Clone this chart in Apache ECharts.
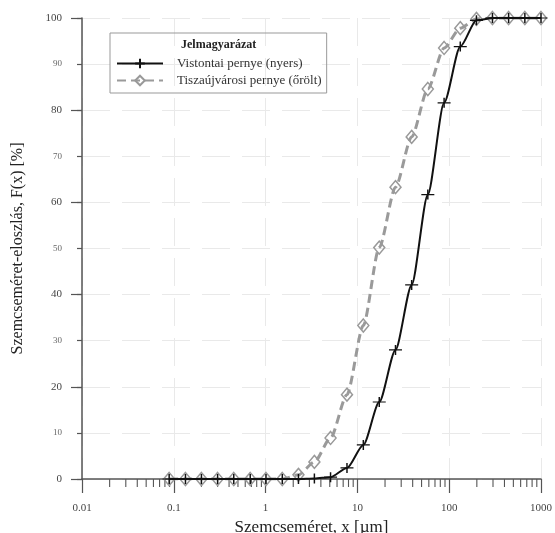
<!DOCTYPE html>
<html>
<head>
<meta charset="utf-8">
<script src="https://cdn.jsdelivr.net/npm/echarts@6/dist/echarts.min.js"></script>
<style>
  html, body { margin: 0; padding: 0; background: #fff; }
  #chart { width: 555px; height: 533px; }
</style>
</head>
<body>
<div id="chart"></div>
<script>
// Particle size classes, x [µm]
var sizes = [0.089, 0.134, 0.2, 0.3, 0.45, 0.68, 1.01, 1.52, 2.28, 3.4, 5.1, 7.7,
             11.6, 17.3, 26, 39, 58.5, 88, 132, 198, 296, 444, 667, 1000];
// Cumulative distribution F(x) [%]
var vistontai = [0, 0, 0, 0, 0, 0, 0, 0, 0, 0.1, 0.4, 2.4,
                 7.4, 16.7, 28, 42.1, 61.7, 81.6, 93.8, 99.5, 100, 100, 100, 100];
var tiszaujvarosi = [0, 0, 0, 0, 0, 0, 0, 0, 0.9, 3.7, 8.9, 18.3,
                     33.3, 50.2, 63.3, 74.2, 84.6, 93.5, 97.8, 99.8, 100, 100, 100, 100];
var seriesNames = ['Vistontai pernye (nyers)', 'Tiszaújvárosi pernye (őrölt)'];
var legendTitle = 'Jelmagyarázat';
var xTitle = 'Szemcseméret, x [µm]';
var yTitle = 'Szemcseméret-eloszlás, F(x) [%]';

// minor ticks 2..9 within every decade of the log axis
var minorTicks = [];
[0.01, 0.1, 1, 10, 100].forEach(function (d) {
  for (var k = 2; k <= 9; k++) minorTicks.push(+(d * k).toPrecision(3));
});

function pairs(xs, ys) {
  return xs.map(function (x, i) { return [x, ys[i]]; });
}

var serif = '"Liberation Serif", "DejaVu Serif", serif';
var chart = echarts.init(document.getElementById('chart'));

chart.setOption({
  backgroundColor: '#fff',
  animation: false,
  textStyle: { fontFamily: serif },
  grid: { left: 82, right: 14, top: 18, bottom: 54, outerBoundsMode: 'none', containLabel: false },
  title: {
    text: legendTitle,
    left: 176, top: 34,
    textStyle: { fontFamily: serif, fontSize: 12, fontWeight: 'bold', color: '#222' }
  },
  legend: {
    data: seriesNames,
    orient: 'vertical',
    left: 110, top: 33,
    padding: [24, 5, 6, 6],
    borderColor: '#999', borderWidth: 1,
    itemGap: 4,
    itemWidth: 46, itemHeight: 12,
    textStyle: { fontFamily: serif, fontSize: 13, color: '#333', padding: [0, 0, 0, 9] }
  },
  xAxis: {
    type: 'log',
    logBase: 10,
    min: 0.01, max: 1000,
    name: xTitle,
    nameLocation: 'middle',
    nameGap: 38,
    nameTextStyle: { fontFamily: serif, fontSize: 17, color: '#222' },
    axisLine: { lineStyle: { color: '#555', width: 1.5 } },
    axisTick: { inside: false, length: 14, lineStyle: { color: '#555', width: 1.2 } },
    axisLabel: {
      margin: 24, fontSize: 11, color: '#444', fontFamily: serif,
      formatter: function (v) { return String(+v.toPrecision(3)); }
    },
    splitLine: { show: true, lineStyle: { color: '#e9e9e9', type: [28, 12], width: 1 } }
  },
  yAxis: [{
    type: 'value',
    min: 0, max: 100, interval: 10,
    name: yTitle,
    nameLocation: 'middle',
    nameGap: 56,
    nameTextStyle: { fontFamily: serif, fontSize: 16, color: '#222' },
    axisLine: { show: true, lineStyle: { color: '#555', width: 1.5 } },
    axisTick: { show: true, length: 5, lineStyle: { color: '#555', width: 1.2 } },
    axisLabel: {
      margin: 20, fontFamily: serif,
      formatter: function (v) { return (v % 20 === 0 ? '{a|' : '{b|') + v + '}'; },
      rich: {
        a: { fontSize: 11, color: '#444', fontFamily: serif },
        b: { fontSize: 9, color: '#666', fontFamily: serif }
      }
    },
    splitLine: { show: true, lineStyle: { color: '#e9e9e9', type: [28, 12], width: 1 } }
  }, {
    // longer ticks for the labelled major steps
    type: 'value',
    position: 'left',
    min: 0, max: 100, interval: 20,
    axisLine: { show: false },
    axisTick: { show: true, length: 11, lineStyle: { color: '#555', width: 1.2 } },
    axisLabel: { show: false },
    splitLine: { show: false }
  }],
  series: [{
    name: seriesNames[1],
    type: 'line',
    data: pairs(sizes, tiszaujvarosi),
    smooth: 0.25,
    smoothMonotone: 'x',
    symbol: 'diamond',
    symbolSize: [11, 13],
    showAllSymbol: true,
    lineStyle: { color: '#9a9a9a', width: 3, type: [9, 5] },
    itemStyle: { color: 'rgba(255,255,255,0)', borderColor: '#999', borderWidth: 1.5 },
    z: 2
  }, {
    name: seriesNames[0],
    type: 'line',
    data: pairs(sizes, vistontai),
    smooth: 0.25,
    smoothMonotone: 'x',
    symbol: 'path://M0,5L12,5M6,0L6,10',
    symbolSize: [13, 10],
    showAllSymbol: true,
    lineStyle: { color: '#111', width: 2 },
    itemStyle: { color: 'rgba(0,0,0,0)', borderColor: '#111', borderWidth: 1.3 },
    z: 3
  }, {
    // 2..9 minor ticks under the log x axis
    type: 'custom',
    silent: true,
    clip: false,
    data: minorTicks.map(function (v) { return [v, 0]; }),
    renderItem: function (params, api) {
      var p = api.coord([api.value(0), 0]);
      return {
        type: 'line',
        shape: { x1: p[0], y1: p[1], x2: p[0], y2: p[1] + 8 },
        style: { stroke: '#555', lineWidth: 1.1 }
      };
    },
    z: 1
  }]
});
</script>
</body>
</html>
